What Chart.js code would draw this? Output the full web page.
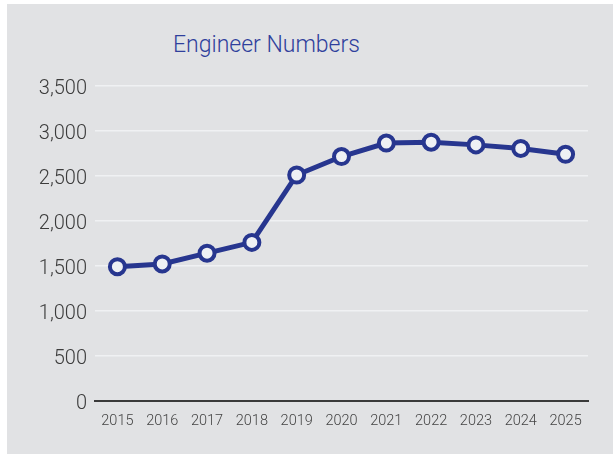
<!DOCTYPE html>
<html>
<head>
<meta charset="utf-8">
<script src="https://cdn.jsdelivr.net/npm/chart.js@4"></script>
<style>
  body { margin: 0; background: #fff; }
  #panel { position: absolute; left: 7px; top: 4px; width: 606px; height: 450px; background: #e1e2e4; }
  #title { position: absolute; left: 173px; top: 31px; font: 300 23px Roboto, sans-serif; color: #2f3f9c; white-space: nowrap; }
  #wrap { position: absolute; left: 0; top: 0; width: 613px; height: 454px; }
</style>
</head>
<body>
<div id="panel"></div>
<div id="title">Engineer Numbers</div>
<div id="wrap"><canvas id="chart"></canvas></div>
<script>
const years = ['2015', '2016', '2017', '2018', '2019', '2020', '2021', '2022', '2023', '2024', '2025']
const engineers = [1490, 1520, 1640, 1760, 2510, 2715, 2865, 2875, 2845, 2805, 2740]
const yMax = 3500
const yStep = 500

const ctx = document.getElementById('chart').getContext('2d')

new Chart(ctx, {
  type: 'line',
  data: {
    labels: years,
    datasets: [{
      label: 'Engineer Numbers',
      data: engineers,
      borderColor: '#27368f',
      borderWidth: 5,
      pointRadius: 7.5,
      pointBorderWidth: 4,
      pointBackgroundColor: '#eef0f4',
      pointBorderColor: '#27368f',
      tension: 0
    }]
  },
  options: {
    animation: false,
    responsive: true,
    maintainAspectRatio: false,
    layout: { padding: { top: 86, right: 25, bottom: 12, left: 0 } },
    plugins: {
      legend: { display: false },
      tooltip: { enabled: false }
    },
    scales: {
      x: {
        offset: true,
        grid: { display: false, drawTicks: false },
        border: { color: '#3a3a3a', width: 2 },
        ticks: { color: '#444', padding: 12, font: { family: 'Roboto', weight: 300, size: 14.5 } }
      },
      y: {
        min: 0,
        max: yMax,
        afterFit: (axis) => { axis.width = 95 },
        grid: { color: '#f0f1f3', lineWidth: 1.5, drawTicks: false },
        border: { display: false },
        ticks: { stepSize: yStep, color: '#3c3c3c', padding: 8, labelOffset: 3, font: { family: 'Roboto', weight: 300, size: 20 } }
      }
    }
  }
})
</script>
</body>
</html>
